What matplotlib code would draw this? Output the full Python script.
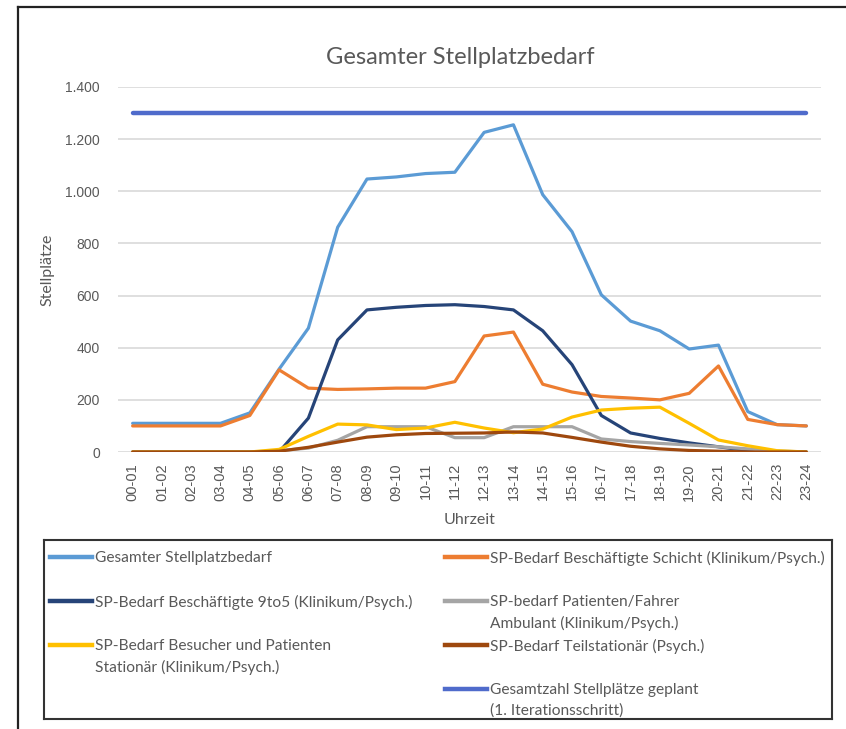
import numpy as np
import matplotlib.pyplot as plt
from matplotlib.lines import Line2D

slots = ["00-01", "01-02", "02-03", "03-04", "04-05", "05-06", "06-07", "07-08",
         "08-09", "09-10", "10-11", "11-12", "12-13", "13-14", "14-15", "15-16",
         "16-17", "17-18", "18-19", "19-20", "20-21", "21-22", "22-23", "23-24"]

gesamt = [110, 110, 110, 110, 150, 318, 475, 862, 1047, 1055, 1068, 1073,
          1226, 1255, 987, 845, 603, 502, 465, 395, 410, 155, 105, 100]
schicht = [100, 100, 100, 100, 140, 315, 245, 240, 242, 245, 245, 270,
           445, 460, 260, 230, 213, 207, 200, 225, 330, 125, 105, 100]
nine_to_five = [0, 0, 0, 0, 0, 0, 130, 430, 545, 555, 562, 565,
                558, 545, 465, 335, 140, 73, 52, 35, 20, 5, 0, 0]
ambulant = [0, 0, 0, 0, 0, 5, 15, 45, 97, 97, 97, 55,
            55, 97, 97, 97, 50, 40, 33, 27, 20, 12, 4, 0]
besucher = [0, 0, 0, 0, 0, 10, 60, 107, 104, 86, 92, 114,
            92, 74, 88, 134, 161, 168, 172, 110, 46, 24, 5, 0]
teilstationaer = [0, 0, 0, 0, 0, 3, 18, 38, 57, 66, 71, 72,
                  73, 77, 73, 56, 38, 22, 12, 6, 3, 0, 0, 0]
geplant = [1300] * 24

series = [
    ("Gesamter Stellplatzbedarf", gesamt, "#5B9BD5", 2.3),
    ("SP-Bedarf Beschäftigte Schicht (Klinikum/Psych.)", schicht, "#ED7D31", 2.3),
    ("SP-Bedarf Beschäftigte 9to5 (Klinikum/Psych.)", nine_to_five, "#264478", 2.3),
    ("SP-bedarf Patienten/Fahrer\nAmbulant (Klinikum/Psych.)", ambulant, "#A5A5A5", 2.3),
    ("SP-Bedarf Besucher und Patienten\nStationär (Klinikum/Psych.)", besucher, "#FFC000", 2.3),
    ("SP-Bedarf Teilstationär (Psych.)", teilstationaer, "#9E480E", 2.3),
    ("Gesamtzahl Stellplätze geplant\n(1. Iterationsschritt)", geplant, "#4F6BCB", 3.2),
]

W, H = 846, 729
fig = plt.figure(figsize=(W / 100, H / 100), dpi=100)
txt = "#595959"

ax = fig.add_axes([118 / W, 1 - 452 / H, (821 - 118) / W, (452 - 87) / H])
x = np.arange(len(slots))
# later series are drawn over earlier ones
for name, vals, col, lw in series:
    ax.plot(x, vals, color=col, lw=lw, solid_capstyle="round", solid_joinstyle="round")

ax.set_xlim(-0.5, len(slots) - 0.5)
ax.set_ylim(0, 1400)
ax.set_yticks(range(0, 1401, 200))
ax.set_yticklabels([f"{v:,}".replace(",", ".") for v in range(0, 1401, 200)],
                   fontsize=10, color=txt, family="Liberation Sans")
ax.set_xticks(x)
ax.set_xticklabels(slots, rotation=90, fontsize=10.5, color=txt, family="Liberation Sans")
ax.tick_params(length=0)
ax.tick_params(axis="x", pad=8)
ax.tick_params(axis="y", pad=13)
ax.grid(axis="y", color="#D9D9D9", lw=1.2)
ax.set_axisbelow(True)
for s in ax.spines.values():
    s.set_visible(False)

ax.set_xlabel("Uhrzeit", fontsize=11.5, color=txt, family="Lato", labelpad=9)
ax.set_ylabel("Stellplätze", fontsize=11.5, color=txt, family="Lato", labelpad=8)
fig.text(460 / W, 1 - 57 / H, "Gesamter Stellplatzbedarf", ha="center", va="center",
         fontsize=17, color=txt, family="Lato")

# legend box laid out in two columns, two text lines per row
lx0, ly0, lx1, ly1 = 44, 540, 832, 719
lax = fig.add_axes([lx0 / W, 1 - ly1 / H, (lx1 - lx0) / W, (ly1 - ly0) / H])
lax.set_xlim(0, lx1 - lx0)
lax.set_ylim(ly1 - ly0, 0)
lax.set_xticks([])
lax.set_yticks([])
for s in lax.spines.values():
    s.set_linewidth(1.5)
    s.set_color("#333333")

layout = {0: (0, 0), 1: (1, 0), 2: (0, 1), 3: (1, 1), 4: (0, 2), 5: (1, 2), 6: (1, 3)}
for i, (name, vals, col, lw) in enumerate(series):
    c, r = layout[i]
    hx = 6 if c == 0 else 401
    ry = 17 + 44 * r
    lax.add_line(Line2D([hx, hx + 42], [ry, ry], color=col, lw=3.2))
    lax.text(hx + 45, ry - 6, name, ha="left", va="top", fontsize=11.2, color=txt,
             family="Lato", linespacing=1.6)

# outer frame edges
fig.add_artist(Line2D([18 / W, 18 / W], [0, 1 - 7 / H], color="#222222", lw=1.6))
fig.add_artist(Line2D([18 / W, 1], [1 - 7 / H, 1 - 7 / H], color="#222222", lw=1.6))

fig.savefig("out.png", dpi=100)
